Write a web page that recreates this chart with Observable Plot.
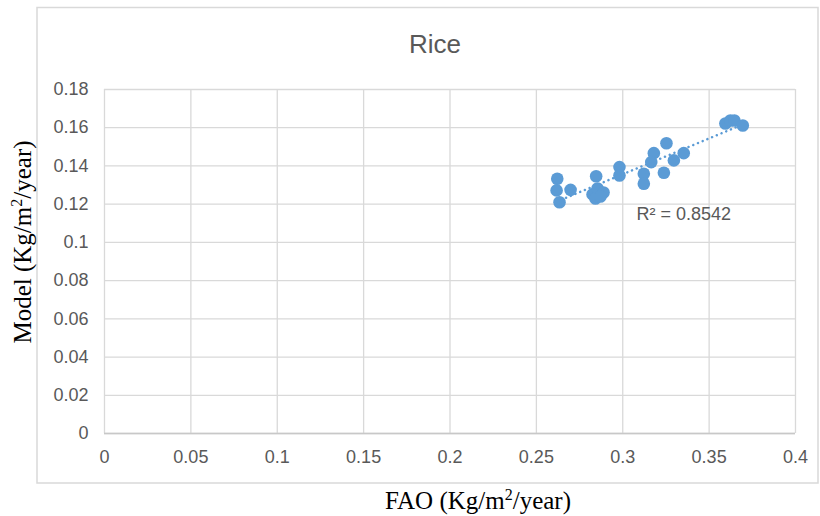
<!DOCTYPE html>
<html>
<head>
<meta charset="utf-8">
<script src="https://cdn.jsdelivr.net/npm/d3@7"></script>
<script src="https://cdn.jsdelivr.net/npm/@observablehq/plot@0.6"></script>
<style>
  html, body { margin: 0; padding: 0; background: #fff; }
  #chart { width: 820px; height: 516px; position: relative; }
</style>
</head>
<body>
<div id="chart"></div>
<script>
// FAO (x) and Model (y) values, Kg/m²/year
const fao = [0.2621, 0.2617, 0.2634, 0.2698, 0.2846,
             0.2825, 0.2854, 0.2889, 0.2842, 0.2871,
             0.2981, 0.2981, 0.3122, 0.3122, 0.3180,
             0.3165, 0.3253, 0.3238, 0.3296, 0.3353,
             0.3594, 0.3623, 0.3646, 0.3695];
const model = [0.1333, 0.1272, 0.1210, 0.1275, 0.1346,
               0.1251, 0.1282, 0.1261, 0.1230, 0.1240,
               0.1394, 0.1350, 0.1359, 0.1307, 0.1467,
               0.1420, 0.1519, 0.1364, 0.1429, 0.1467,
               0.1622, 0.1638, 0.1638, 0.1612];
const xTicks = [0, 0.05, 0.1, 0.15, 0.2, 0.25, 0.3, 0.35, 0.4];
const yTicks = [0, 0.02, 0.04, 0.06, 0.08, 0.1, 0.12, 0.14, 0.16, 0.18];
const r2Label = [{x: 0.308, y: 0.1146, text: "R\u00B2 = 0.8542"}];
const titleText = "Rice";

const data = fao.map((x, i) => ({x, y: model[i]}));
const blue = "#5B9BD5";
const grid = "#d9d9d9";

const svg = Plot.plot({
  width: 820,
  height: 516,
  marginLeft: 104,
  marginRight: 25,
  marginTop: 89,
  marginBottom: 83,
  style: {fontFamily: "'Liberation Sans', Arial, sans-serif", fontSize: "18px", color: "#595959", background: "transparent"},
  x: {domain: [0, 0.4]},
  y: {domain: [0, 0.18]},
  marks: [
    Plot.gridX(xTicks, {stroke: grid, strokeOpacity: 1, strokeWidth: 1.3}),
    Plot.gridY(yTicks, {stroke: grid, strokeOpacity: 1, strokeWidth: 1.3}),
    Plot.ruleY([0], {stroke: "#c8c8c8", strokeWidth: 1.3}),
    Plot.axisX(xTicks, {tickSize: 0, tickPadding: 17, label: null, tickFormat: d => String(d)}),
    Plot.axisY(yTicks, {tickSize: 0, tickPadding: 16, label: null, tickFormat: d => String(d)}),
    Plot.linearRegressionY(data, {x: "x", y: "y", ci: 0, stroke: blue, strokeWidth: 2.5,
      strokeDasharray: "0.1 5", strokeLinecap: "round"}),
    Plot.dot(data, {x: "x", y: "y", r: 6.3, fill: blue, stroke: "none"}),
    Plot.text(r2Label, {x: "x", y: "y", text: "text", textAnchor: "start", fill: "#595959", fontSize: 18})
  ]
});

const s = d3.select(svg);
// chart area border (behind everything)
s.insert("rect", ":first-child")
  .attr("x", 37).attr("y", 7.5).attr("width", 781).attr("height", 475.5)
  .attr("fill", "white").attr("stroke", grid).attr("stroke-width", 1.5);
// title
s.append("text").attr("x", 435).attr("y", 53).attr("text-anchor", "middle")
  .attr("fill", "#595959").attr("font-size", 26)
  .attr("font-family", "'Liberation Sans', Arial, sans-serif").text(titleText);
// x axis title
const xt = s.append("text").attr("x", 478).attr("y", 509).attr("text-anchor", "middle")
  .attr("fill", "#000").attr("font-size", 25)
  .attr("font-family", "'Liberation Serif', 'Times New Roman', serif");
xt.append("tspan").text("FAO (Kg/m");
xt.append("tspan").attr("font-size", 16).attr("dy", -9).text("2");
xt.append("tspan").attr("dy", 9).text("/year)");
// y axis title
const yt = s.append("text").attr("transform", "translate(31,242) rotate(-90)").attr("text-anchor", "middle")
  .attr("fill", "#000").attr("font-size", 25)
  .attr("font-family", "'Liberation Serif', 'Times New Roman', serif");
yt.append("tspan").text("Model (Kg/m");
yt.append("tspan").attr("font-size", 16).attr("dy", -9).text("2");
yt.append("tspan").attr("dy", 9).text("/year)");

document.getElementById("chart").appendChild(svg);
</script>
</body>
</html>
